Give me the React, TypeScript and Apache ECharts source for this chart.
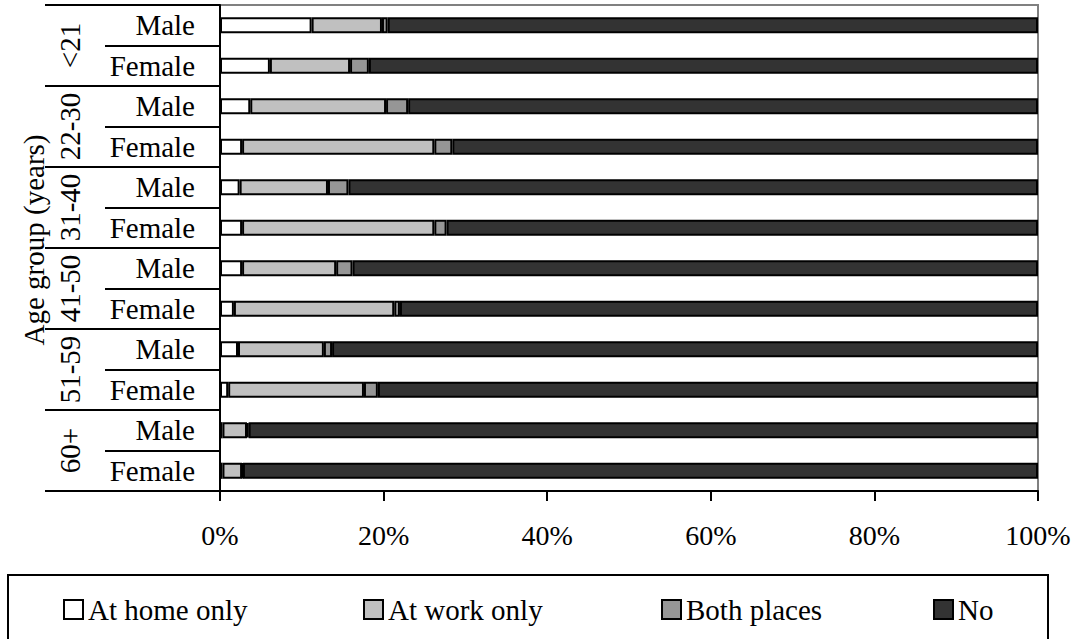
import React, { useEffect, useRef } from "react";
import * as echarts from "echarts";

const groups = ["<21", "22-30", "31-40", "41-50", "51-59", "60+"];
const sexes = ["Male", "Female"];
const categories = groups.flatMap((g) => sexes.map((s) => `${g}|${s}`));

const seriesNames = ["At home only", "At work only", "Both places", "No"];
const homeOnly = [11.2, 6.1, 3.7, 2.7, 2.4, 2.7, 2.7, 1.7, 2.2, 1.0, 0.3, 0.3];
const workOnly = [8.6, 9.8, 16.6, 23.5, 10.8, 23.5, 11.5, 19.6, 10.5, 16.6, 3.0, 2.4];
const bothPlaces = [0.7, 2.3, 2.7, 2.2, 2.5, 1.5, 2.0, 0.7, 1.0, 1.7, 0.2, 0.1];
const noSmoke = [79.5, 81.8, 77.0, 71.6, 84.3, 72.3, 83.8, 78.0, 86.3, 80.7, 96.5, 97.2];
const xTicks = [0, 20, 40, 60, 80, 100];

const colors = ["#ffffff", "#c0c0c0", "#969696", "#333333"];
const FONT = '"Liberation Serif", "Times New Roman", serif';
const FS = 29;
const FS_TICK = 28;

export default function App() {
  const ref = useRef<HTMLDivElement>(null);
  useEffect(() => {
    if (!ref.current) return;
    const chart = echarts.init(ref.current, undefined, { renderer: "svg" });
    const values = [homeOnly, workOnly, bothPlaces, noSmoke];
    const legendLefts = [63, 363, 661, 933];
    chart.setOption({
      animation: false,
      backgroundColor: "#ffffff",
      textStyle: { fontFamily: FONT, color: "#000" },
      grid: {
        left: 220,
        right: 39,
        top: 5,
        bottom: 148,
        show: true,
        borderColor: "#808080",
        borderWidth: 2,
        backgroundColor: "transparent",
      },
      xAxis: {
        type: "value",
        min: xTicks[0],
        max: xTicks[xTicks.length - 1],
        interval: 20,
        axisLine: { show: true, lineStyle: { color: "#000", width: 2 } },
        axisTick: { show: true, length: 10, lineStyle: { color: "#000", width: 2 } },
        splitLine: { show: false },
        axisLabel: {
          formatter: "{value}%",
          fontFamily: FONT,
          fontSize: FS_TICK,
          color: "#000",
          margin: 30,
        },
      },
      yAxis: [
        {
          type: "category",
          data: categories,
          inverse: true,
          position: "left",
          axisLine: { show: true, lineStyle: { color: "#000", width: 2 } },
          axisTick: { show: true, length: 115, lineStyle: { color: "#000", width: 2 } },
          axisLabel: {
            interval: 0,
            formatter: (v: string) => v.split("|")[1],
            fontFamily: FONT,
            fontSize: FS,
            color: "#000",
            margin: 25,
          },
          name: "Age group (years)",
          nameLocation: "middle",
          nameRotate: 90,
          nameGap: 172,
          nameTextStyle: { fontFamily: FONT, fontSize: FS, color: "#000", padding: [0, 0, 0, 16] },
        },
        {
          type: "category",
          data: groups,
          inverse: true,
          position: "left",
          axisLine: { show: false },
          axisTick: { show: true, length: 175, lineStyle: { color: "#000", width: 2 } },
          axisLabel: {
            interval: 0,
            rotate: 90,
            fontFamily: FONT,
            fontSize: FS,
            color: "#000",
            margin: 136,
          },
        },
      ],
      legend: seriesNames.map((name, i) => ({
        data: [name],
        left: legendLefts[i],
        top: 595,
        padding: 0,
        itemWidth: 19,
        itemHeight: 19,
        icon: "rect",
        textStyle: { fontFamily: FONT, fontSize: FS, color: "#000" },
        selectedMode: false,
      })),
      graphic: [
        {
          type: "rect",
          shape: { x: 8, y: 575, width: 1040, height: 90 },
          style: { fill: "none", stroke: "#000", lineWidth: 2 },
          silent: true,
        },
      ],
      series: seriesNames.map((name, i) => ({
        name,
        type: "bar",
        stack: "total",
        xAxisIndex: 0,
        yAxisIndex: 0,
        barWidth: "40%",
        data: values[i],
        itemStyle: { color: colors[i], borderColor: "#000", borderWidth: 2 },
        emphasis: { disabled: true },
      })),
    });
    return () => chart.dispose();
  }, []);
  return (
    <div
      ref={ref}
      style={{ position: "fixed", left: 0, top: 0, width: 1077, height: 639 }}
    />
  );
}
